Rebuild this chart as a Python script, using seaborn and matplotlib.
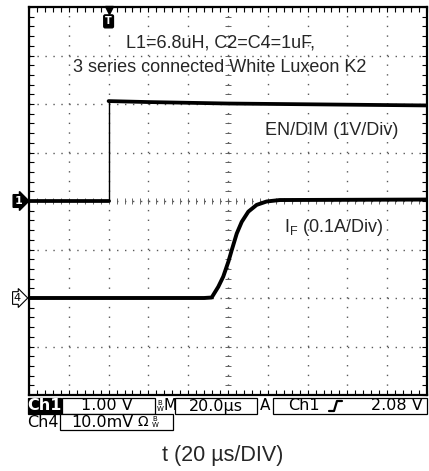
import numpy as np
import pandas as pd
import seaborn as sns
from matplotlib import pyplot as plt
from matplotlib.patches import Rectangle
from matplotlib.lines import Line2D
from matplotlib.ticker import MultipleLocator
import matplotlib.transforms as mtransforms

# scope settings
us_per_div = 20
n_xdiv = 10
n_ydiv = 8
trig_us = 40

# Ch1: EN/DIM in volts, 1 V/div, ground on the centre line
en_low_t = [0, 40]
en_low_v = [0.0, 0.0]
en_high_t = [40, 60, 100, 150, 200]
en_high_v = [2.06, 2.04, 2.01, 1.99, 1.97]
en_scale = 1.0
en_offset = 0.0

# Ch4: LED current I_F in amps, 0.1 A/div, ground 2 div below centre
if_t = [0, 88, 91.8, 95.1, 97.6, 100.2, 101.9, 104.4, 106.9, 110.2, 114.4, 119.4, 126, 200]
if_a = [0.0, 0.0, 0.001, 0.023, 0.044, 0.075, 0.099, 0.133, 0.157, 0.178, 0.192, 0.199, 0.202, 0.203]
if_scale = 0.1
if_offset = -2.0

header = ["L1=6.8uH, C2=C4=1uF,", "3 series connected White Luxeon K2"]
en_label = "EN/DIM (1V/Div)"
if_label = r"I$_{\rm F}$ (0.1A/Div)"
xlabel = "t (20 µs/DIV)"

sns.set_theme(style="white")
plt.rcParams['font.family'] = ['Liberation Sans', 'DejaVu Sans']
plt.rcParams['mathtext.fontset'] = 'custom'
plt.rcParams['mathtext.rm'] = 'Liberation Sans'

W, H = 429, 471
fig = plt.figure(figsize=(W / 100, H / 100), dpi=100)


def fx(px):
    return px / W


def fy(py):
    return 1 - py / H


ax = fig.add_axes([fx(29), fy(395), fx(427) - fx(29), fy(7) - fy(395)])

# traces (converted to screen divisions)
en_low = pd.DataFrame({'t': en_low_t, 'd': np.array(en_low_v) / en_scale + en_offset})
en_high = pd.DataFrame({'t': en_high_t, 'd': np.array(en_high_v) / en_scale + en_offset})
cur = pd.DataFrame({'t': if_t, 'd': np.array(if_a) / if_scale + if_offset})

sns.lineplot(data=en_low, x='t', y='d', ax=ax, color='black', lw=2.7,
             estimator=None, sort=False)
sns.lineplot(data=en_high, x='t', y='d', ax=ax, color='black', lw=2.7,
             estimator=None, sort=False)
ax.vlines(en_high['t'].iloc[0], en_low['d'].iloc[-1], en_high['d'].iloc[0],
          color='black', lw=1.0)
sns.lineplot(data=cur, x='t', y='d', ax=ax, color='black', lw=2.8,
             estimator=None, sort=False)

ax.set_xlim(0, n_xdiv * us_per_div)
ax.set_ylim(-n_ydiv / 2, n_ydiv / 2)
ax.set_xlabel('')
ax.set_ylabel('')

# graticule
ax.xaxis.set_major_locator(MultipleLocator(us_per_div))
ax.xaxis.set_minor_locator(MultipleLocator(us_per_div / 5))
ax.yaxis.set_major_locator(MultipleLocator(1))
ax.yaxis.set_minor_locator(MultipleLocator(0.2))
ax.tick_params(which='both', direction='in', length=3.5, width=0.8, color='black',
               top=True, right=True, bottom=True, left=True,
               labelbottom=False, labelleft=False)
ax.xaxis.grid(True, which='major', color='0.35', lw=1.0, linestyle=(0, (1, 5.98)))
ax.yaxis.grid(True, which='major', color='0.35', lw=1.0, linestyle=(0, (1, 4.73)))
for s in ax.spines.values():
    s.set_color('black')
    s.set_linewidth(1.6)

# centre crosshair ticks
secx = ax.secondary_xaxis(0.5)
secx.xaxis.set_major_locator(MultipleLocator(us_per_div / 5))
secx.tick_params(which='both', direction='inout', length=4, width=0.6, color='0.3',
                 labeltop=False, labelbottom=False)
secy = ax.secondary_yaxis(0.5)
secy.yaxis.set_major_locator(MultipleLocator(0.2))
secy.tick_params(which='both', direction='inout', length=4, width=0.6, color='0.3',
                 labelleft=False, labelright=False)
for sec in (secx, secy):
    for s in sec.spines.values():
        s.set_visible(False)

# labels inside the screen
ax.text(96, 3.26, header[0], ha='center', va='center', fontsize=13)
ax.text(96, 2.76, header[1], ha='center', va='center', fontsize=13)
ax.text(185.5, 1.46, en_label, ha='right', va='center', fontsize=13)
ax.text(178, -0.54, if_label, ha='right', va='center', fontsize=13)

# channel ground markers and trigger marker
yblend = mtransforms.blended_transform_factory(ax.transAxes, ax.transData)
ax.text(-0.017, en_offset, '1', transform=yblend, ha='right', va='center',
        color='white', fontsize=8, fontweight='bold', family='DejaVu Sans',
        bbox=dict(boxstyle='rarrow,pad=0.12', fc='black', ec='black'), clip_on=False)
ax.text(-0.02, if_offset, '4', transform=yblend, ha='right', va='center',
        color='black', fontsize=8, family='DejaVu Sans',
        bbox=dict(boxstyle='rarrow,pad=0.12', fc='white', ec='black', lw=0.8), clip_on=False)
xblend = mtransforms.blended_transform_factory(ax.transData, ax.transAxes)
ax.plot([trig_us], [0.992], marker='v', ms=6, color='black', transform=xblend, clip_on=False)
ax.text(trig_us, 0.963, 'T', transform=xblend, ha='center', va='center', color='white',
        fontsize=7, fontweight='bold', family='DejaVu Sans',
        bbox=dict(boxstyle='round,pad=0.15', fc='black', ec='black'))

# scope status readout
def box(x0, x1, y0, y1, fc='white'):
    fig.add_artist(Rectangle((fx(x0), fy(y1)), fx(x1) - fx(x0), fy(y0) - fy(y1),
                             transform=fig.transFigure, fc=fc, ec='black', lw=0.9))


def stext(x, y, s, ha='center', color='black', size=11.5, weight='normal'):
    fig.text(fx(x), fy(y), s, ha=ha, va='center', color=color, fontsize=size,
             fontweight=weight, family='DejaVu Sans')


box(28, 61, 398, 414, fc='black')
stext(44.5, 406, 'Ch1', color='white', weight='bold')
box(62, 155, 398, 414)
stext(107, 406, '1.00 V')
stext(160, 403, 'B', size=5)
stext(160, 409, 'W', size=5)
stext(170, 406, 'M', size=11)
box(175, 257, 398, 414)
stext(216, 406, '20.0µs')
stext(265, 406, 'A', size=11)
box(273, 427, 398, 414)
stext(304, 406, 'Ch1')
fig.add_artist(Line2D([fx(329), fx(334), fx(337), fx(342)], [fy(411), fy(411), fy(401), fy(401)],
                      transform=fig.transFigure, color='black', lw=1.6))
stext(423, 406, '2.08 V', ha='right')

stext(43, 422.5, 'Ch4')
box(60, 173, 414, 430)
stext(102, 422.5, '10.0mV')
stext(143, 422.5, 'Ω', size=10)
stext(155, 419, 'B', size=5)
stext(155, 425, 'W', size=5)

fig.text(fx(223), fy(456), xlabel, ha='center', va='center', fontsize=15.5)

fig.savefig('out.png', dpi=100)
